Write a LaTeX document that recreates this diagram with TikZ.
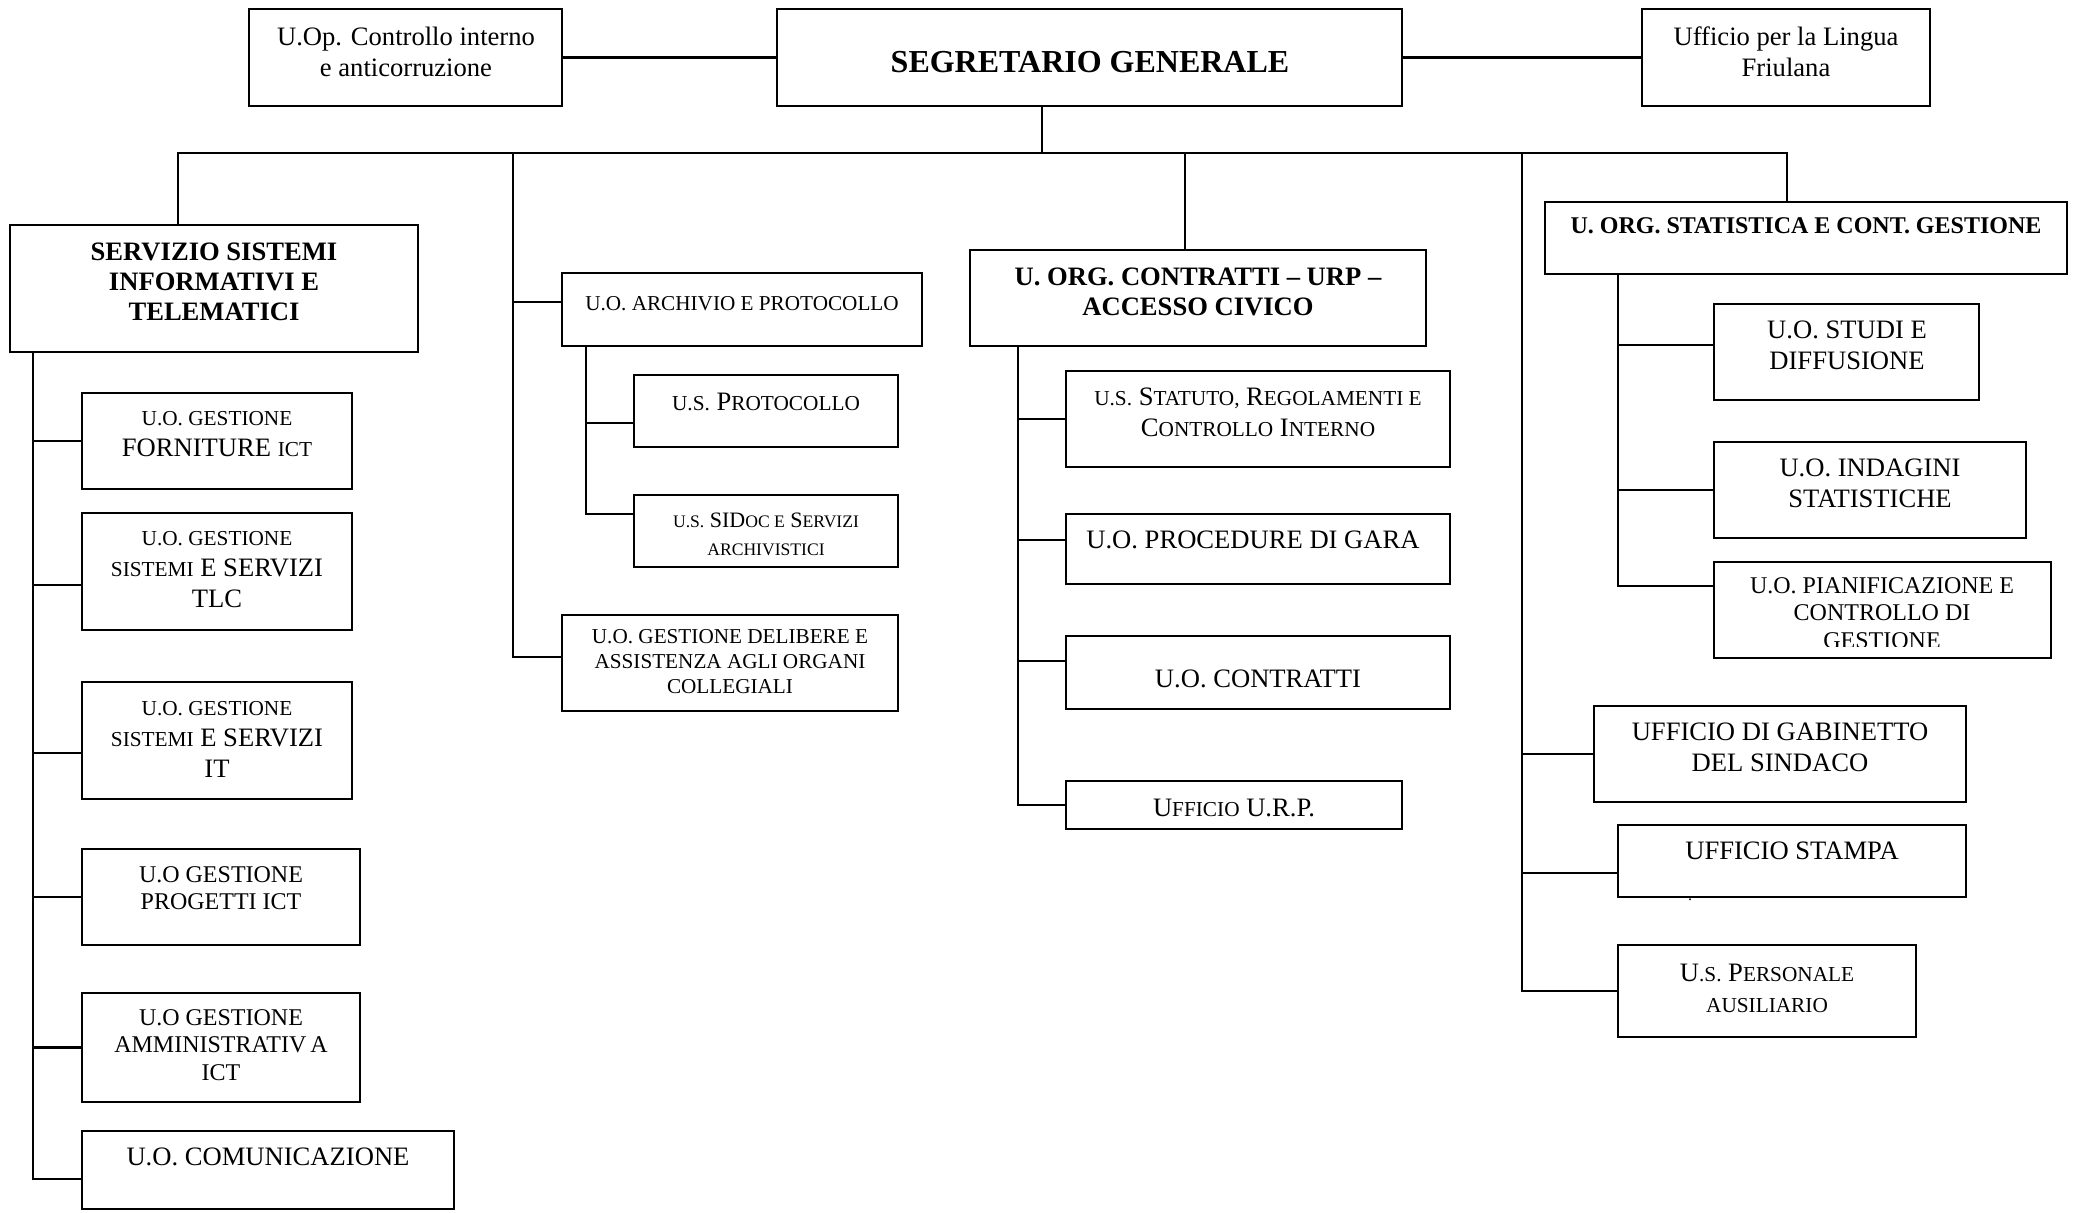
\documentclass[tikz,border=0pt]{standalone}
\usepackage{fontspec}
\setmainfont{Liberation Serif}
\usepackage{graphicx}
\usetikzlibrary{fit}

% fake small caps, as in the printed chart
\newcommand{\smc}[1]{\scalebox{0.8}{#1}}

\begin{document}
\begin{tikzpicture}[
x=0.5pt,
y=-0.5pt,
line width=1.2pt,
box/.style={%
    rectangle,
    draw=black,
    inner sep=0pt,
},
txt/.style={%
    align=center,
    inner sep=0pt,
    font=\fontsize{13.3}{15.5}\selectfont,
},
head/.style={%
    txt,
    font=\fontsize{13.3}{15}\selectfont\bfseries,
},
smalltxt/.style={%
    txt,
    font=\fontsize{10.6}{12.5}\selectfont,
},
midtxt/.style={%
    txt,
    font=\fontsize{12}{13.8}\selectfont,
},
]
\path[use as bounding box, fill=white] (0,0) rectangle (2076,1212);

% Boxes
\node[box, fit={(249,9) (562,106)}]      (uop)         {};
\node[box, fit={(777,9) (1402,106)}]     (segr)        {};
\node[box, fit={(1642,9) (1930,106)}]    (friul)       {};

\node[box, fit={(10,225) (418,352)}]     (siti)        {};
\node[box, fit={(82,393) (352,489)}]     (forniture)   {};
\node[box, fit={(82,513) (352,630)}]     (tlc)         {};
\node[box, fit={(82,682) (352,799)}]     (servit)      {};
\node[box, fit={(82,849) (360,945)}]     (progetti)    {};
\node[box, fit={(82,993) (360,1102)}]    (amministr)   {};
\node[box, fit={(82,1131) (454,1209)}]   (comunic)     {};

\node[box, fit={(562,273) (922,346)}]    (archivio)    {};
\node[box, fit={(634,375) (898,447)}]    (protocollo)  {};
\node[box, fit={(634,495) (898,567)}]    (sidoc)       {};
\node[box, fit={(562,615) (898,711)}]    (delibere)    {};

\node[box, fit={(970,250) (1426,346)}]   (contratti)   {};
\node[box, fit={(1066,371) (1450,467)}]  (statuto)     {};
\node[box, fit={(1066,514) (1450,584)}]  (gara)        {};
\node[box, fit={(1066,636) (1450,709)}]  (uocontratti) {};
\node[box, fit={(1066,781) (1402,829)}]  (urp)         {};

\node[box, fit={(1545,202) (2067,274)}]  (statistica)  {};
\node[box, fit={(1714,304) (1979,400)}]  (studi)       {};
\node[box, fit={(1714,442) (2026,538)}]  (indagini)    {};
\node[box, fit={(1714,562) (2051,658)}]  (pianif)      {};

\node[box, fit={(1594,706) (1966,802)}]  (gabinetto)   {};
\node[box, fit={(1618,825) (1966,897)}]  (stampa)      {};
\node[box, fit={(1618,945) (1916,1037)}] (personale)   {};

% Texts
\node[txt]  at (406,52)   (uoptext)   {U.Op. Controllo interno\\e anticorruzione};
\node[head, font=\fontsize{16}{18}\selectfont\bfseries]
            at (1090,62)  (segrtext)  {SEGRETARIO GENERALE};
\node[txt]  at (1786,52)  (friultext) {Ufficio per la Lingua\\Friulana};

\node[head] at (214,282)  (sititext)       {SERVIZIO SISTEMI\\INFORMATIVI E\\TELEMATICI};
\node[txt]  at (217,434)  (fornituretext)  {\smc{U.O. GESTIONE}\\FORNITURE \smc{ICT}};
\node[txt]  at (217,570)  (tlctext)        {\smc{U.O. GESTIONE}\\\smc{SISTEMI} E SERVIZI\\TLC};
\node[txt]  at (217,739)  (servittext)     {\smc{U.O. GESTIONE}\\\smc{SISTEMI} E SERVIZI\\IT};
\node[midtxt] at (221,888)  (progettitext) {U.O GESTIONE\\PROGETTI ICT};
\node[midtxt] at (221,1045) (amministrtext){U.O GESTIONE\\AMMINISTRATIV\kern2pt A\\ICT};
\node[txt]  at (268,1157) (comunictext)    {U.O. COMUNICAZIONE};

\node[smalltxt] at (742,304) (archiviotext)   {U.O. ARCHIVIO E PROTOCOLLO};
\node[txt]  at (766,402)  (protocollotext)    {\smc{U.S.} P\smc{ROTOCOLLO}};
\node[txt, font=\fontsize{11}{14}\selectfont]
            at (766,534)  (sidoctext)         {\smc{U.S.} SID\smc{OC E} S\smc{ERVIZI}\\\smc{ARCHIVISTICI}};
\node[smalltxt] at (730,662) (deliberetext)   {U.O. GESTIONE DELIBERE E\\ASSISTENZA AGLI ORGANI\\COLLEGIALI};

\node[head] at (1198,292) (contrattitext)     {U. ORG. CONTRATTI -- URP --\\ACCESSO CIVICO};
\node[txt]  at (1258,412) (statutotext)       {\smc{U.S.} S\smc{TATUTO,} R\smc{EGOLAMENTI E}\\C\smc{ONTROLLO} I\smc{NTERNO}};
\node[txt]  at (1253,540) (garatext)          {U.O. PROCEDURE DI GARA};
\node[txt]  at (1258,679) (uocontrattitext)   {U.O. CONTRATTI};
\node[txt]  at (1234,808) (urptext)           {U\smc{FFICIO} U.R.P.};

\node[head, font=\fontsize{12}{14}\selectfont\bfseries]
            at (1806,226) (statisticatext)    {U. ORG. STATISTICA E CONT. GESTIONE};
\node[txt]  at (1847,345) (studitext)         {U.O. STUDI E\\DIFFUSIONE};
\node[txt]  at (1870,483) (indaginitext)      {U.O. INDAGINI\\STATISTICHE};
\begin{scope}
\clip (pianif.north west) rectangle ([yshift=6.5pt]pianif.south east);
\node[midtxt] at (1882,613) (pianiftext)      {U.O. PIANIFICAZIONE E\\CONTROLLO DI\\GESTIONE};
\end{scope}

\node[txt]  at (1780,747) (gabinettotext)     {UFFICIO DI GABINETTO\\DEL SINDACO};
\node[txt]  at (1792,851) (stampatext)        {UFFICIO STAMPA};
\node[txt, font=\fontsize{8}{8}\selectfont]
            at (1690,900) (stampadot)         {.};
\node[txt]  at (1767,988) (personaletext)     {U\smc{.S.} P\smc{ERSONALE}\\\smc{AUSILIARIO}};

% Junctions
\coordinate (jsegr)  at (1042,153);
\coordinate (jsiti)  at (178,153);
\coordinate (jarch)  at (513,153);
\coordinate (jcontr) at (1185,153);
\coordinate (jgab)   at (1522,153);
\coordinate (jstat)  at (1787,153);
\coordinate (tsiti)  at (33,352);
\coordinate (tarch)  at (586,346);
\coordinate (tcontr) at (1018,346);
\coordinate (tstat)  at (1618,274);

% Lines
\draw (uop) -- (segr);
\draw (segr) -- (friul);
\draw (segr.south -| jsegr) -- (jsegr);
\draw (jsiti |- siti.north) -- (jsiti) -- (jstat) -- (jstat |- statistica.north);
\draw (jarch) |- ([yshift=3.75pt]archivio.west);
\draw (jarch) |- ([yshift=3pt]delibere.west);
\draw (jcontr) -- (jcontr |- contratti.north);
\draw (jgab) |- (gabinetto.west);
\draw (jgab) |- ([yshift=-6pt]stampa.west);
\draw (jgab) |- (personale.west);

\draw (tsiti) |- (forniture.west);
\draw (tsiti) |- ([yshift=-6.75pt]tlc.west);
\draw (tsiti) |- ([yshift=-6.25pt]servit.west);
\draw (tsiti) |- (progetti.west);
\draw (tsiti) |- (amministr.west);
\draw (tsiti) |- ([yshift=-4.5pt]comunic.west);

\draw (tarch) |- ([yshift=-6pt]protocollo.west);
\draw (tarch) |- ([yshift=8.5pt]sidoc.west);

\draw (tcontr) |- (statuto.west);
\draw (tcontr) |- ([yshift=4.5pt]gara.west);
\draw (tcontr) |- ([yshift=5.75pt]uocontratti.west);
\draw (tcontr) |- (urp.west);

\draw (tstat) |- ([yshift=3.5pt]studi.west);
\draw (tstat) |- (indagini.west);
\draw (tstat) |- ([yshift=12pt]pianif.west);
\end{tikzpicture}
\end{document}
